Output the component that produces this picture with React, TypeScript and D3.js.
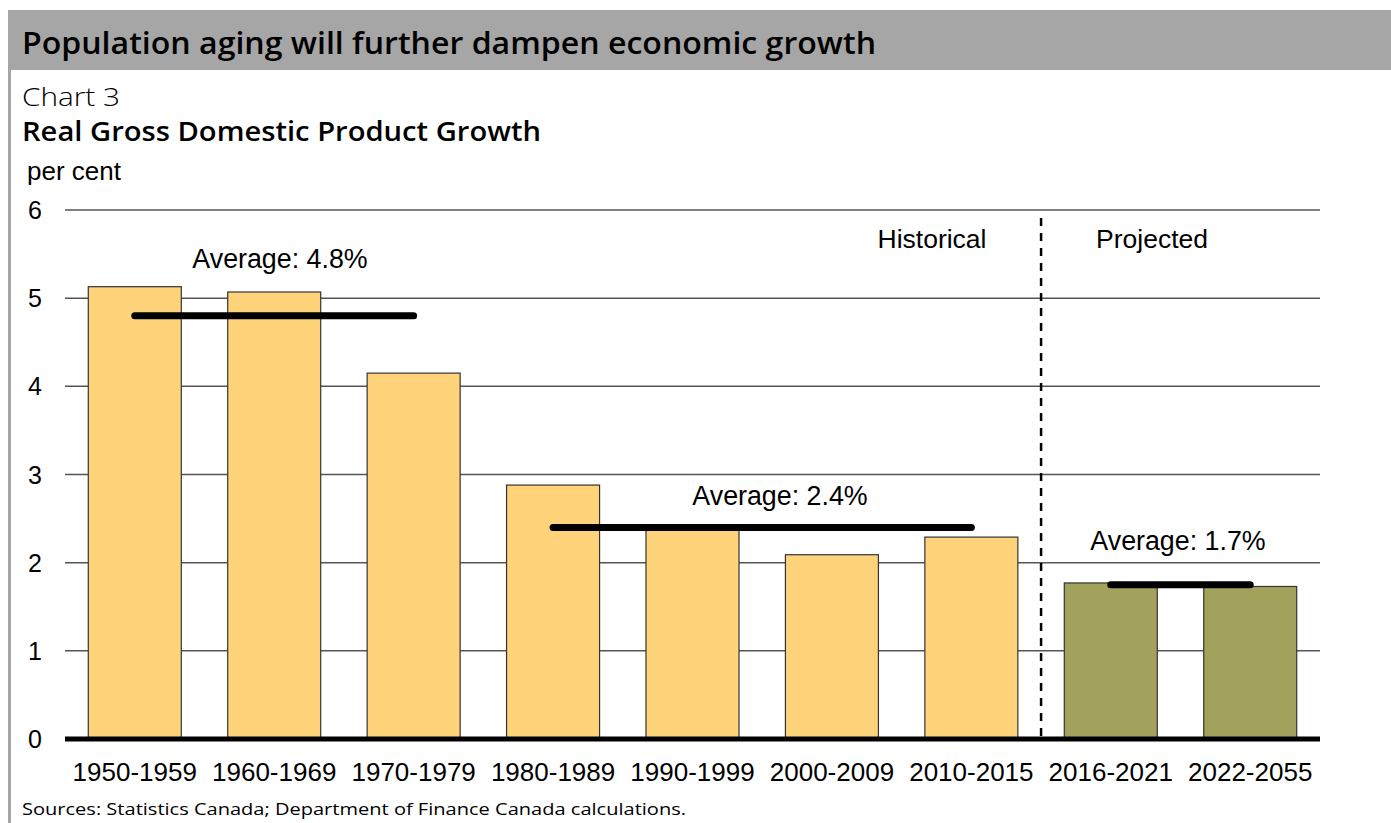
import React from "react";
import * as d3 from "d3";

const categories = ["1950-1959", "1960-1969", "1970-1979", "1980-1989", "1990-1999", "2000-2009", "2010-2015", "2016-2021", "2022-2055"];
const growth = [5.13, 5.07, 4.15, 2.88, 2.38, 2.09, 2.29, 1.77, 1.73];
const projected = [false, false, false, false, false, false, false, true, true];
const yTicks = [0, 1, 2, 3, 4, 5, 6];
const averageFrom = ["1950-1959", "1980-1989", "2016-2021"];
const averageTo = ["1970-1979", "2010-2015", "2022-2055"];
const averageValue = [4.8, 2.4, 1.75];
const averageLabel = ["Average: 4.8%", "Average: 2.4%", "Average: 1.7%"];
const averageLabelCenter = [280, 780, 1178];
const averageLabelOffset = [48, 22, 35];

const W = 1391;
const H = 823;
const plotLeft = 65;
const plotRight = 1320;
const plotTop = 210;
const plotBottom = 739;
const ARIAL = "'Liberation Sans', Arial, sans-serif";
const TITLE_FONT = "'Open Sans', 'Noto Sans', sans-serif";

export default function App() {
  const x = d3.scaleBand<string>().domain(categories).range([plotLeft, plotRight]).paddingInner(0.333).paddingOuter(0.167);
  const y = d3.scaleLinear().domain([0, 6]).range([plotBottom, plotTop]);
  const bw = x.bandwidth();
  const dividerX = (x("2010-2015")! + bw + x("2016-2021")!) / 2;

  return (
    <svg width={W} height={H} style={{ position: "absolute", left: 0, top: 0 }}>
      <rect x={0} y={0} width={W} height={H} fill="#fff" />
      <rect x={8} y={10} width={W - 8} height={60} fill="#a6a6a6" />
      <rect x={8} y={70} width={3} height={H - 70} fill="#a6a6a6" />
      <text x={22} y={54} fontFamily={TITLE_FONT} fontWeight={600} fontSize={30} fill="#000" textLength={854} lengthAdjust="spacingAndGlyphs">
        Population aging will further dampen economic growth
      </text>
      <text x={22} y={106} fontFamily={TITLE_FONT} fontWeight={300} fontSize={25} fill="#000" textLength={98} lengthAdjust="spacingAndGlyphs">
        Chart 3
      </text>
      <text x={22} y={141} fontFamily={TITLE_FONT} fontWeight={600} fontSize={27} fill="#000" textLength={519} lengthAdjust="spacingAndGlyphs">
        Real Gross Domestic Product Growth
      </text>
      <text x={27} y={180} fontFamily={ARIAL} fontSize={26} fill="#000">
        per cent
      </text>

      {yTicks.map((t) => (
        <g key={t}>
          {t > 0 && <line x1={plotLeft} x2={plotRight} y1={y(t)} y2={y(t)} stroke="#555" strokeWidth={1.5} />}
          <text x={42} y={y(t)} dy="0.36em" textAnchor="end" fontFamily={ARIAL} fontSize={25} fill="#000">
            {t}
          </text>
        </g>
      ))}

      {categories.map((c, i) => (
        <rect
          key={c}
          x={x(c)}
          y={y(growth[i])}
          width={bw}
          height={y(0) - y(growth[i])}
          fill={projected[i] ? "#a2a25c" : "#fed37a"}
          stroke="#333"
          strokeWidth={1.2}
        />
      ))}

      <line x1={dividerX} x2={dividerX} y1={plotTop + 8} y2={plotBottom} stroke="#000" strokeWidth={2.5} strokeDasharray="8 7" />
      <text x={932} y={248} textAnchor="middle" fontFamily={ARIAL} fontSize={26.5} fill="#000">Historical</text>
      <text x={1152} y={248} textAnchor="middle" fontFamily={ARIAL} fontSize={26.5} fill="#000">Projected</text>

      {averageValue.map((v, i) => {
        const x1 = x(averageFrom[i])! + bw / 2;
        const x2 = x(averageTo[i])! + bw / 2;
        return (
          <g key={i}>
            <line x1={x1} x2={x2} y1={y(v)} y2={y(v)} stroke="#000" strokeWidth={7} strokeLinecap="round" />
            <text x={averageLabelCenter[i]} y={y(v) - averageLabelOffset[i]} textAnchor="middle" fontFamily={ARIAL} fontSize={26.8} fill="#000">
              {averageLabel[i]}
            </text>
          </g>
        );
      })}

      <line x1={plotLeft} x2={plotRight} y1={plotBottom} y2={plotBottom} stroke="#000" strokeWidth={5} />

      {categories.map((c) => (
        <text key={c} x={x(c)! + bw / 2} y={781} textAnchor="middle" fontFamily={ARIAL} fontSize={26} fill="#000">
          {c}
        </text>
      ))}

      <text x={22} y={815} fontFamily={TITLE_FONT} fontSize={16.5} fill="#000" textLength={664} lengthAdjust="spacingAndGlyphs">
        Sources: Statistics Canada; Department of Finance Canada calculations.
      </text>
    </svg>
  );
}
